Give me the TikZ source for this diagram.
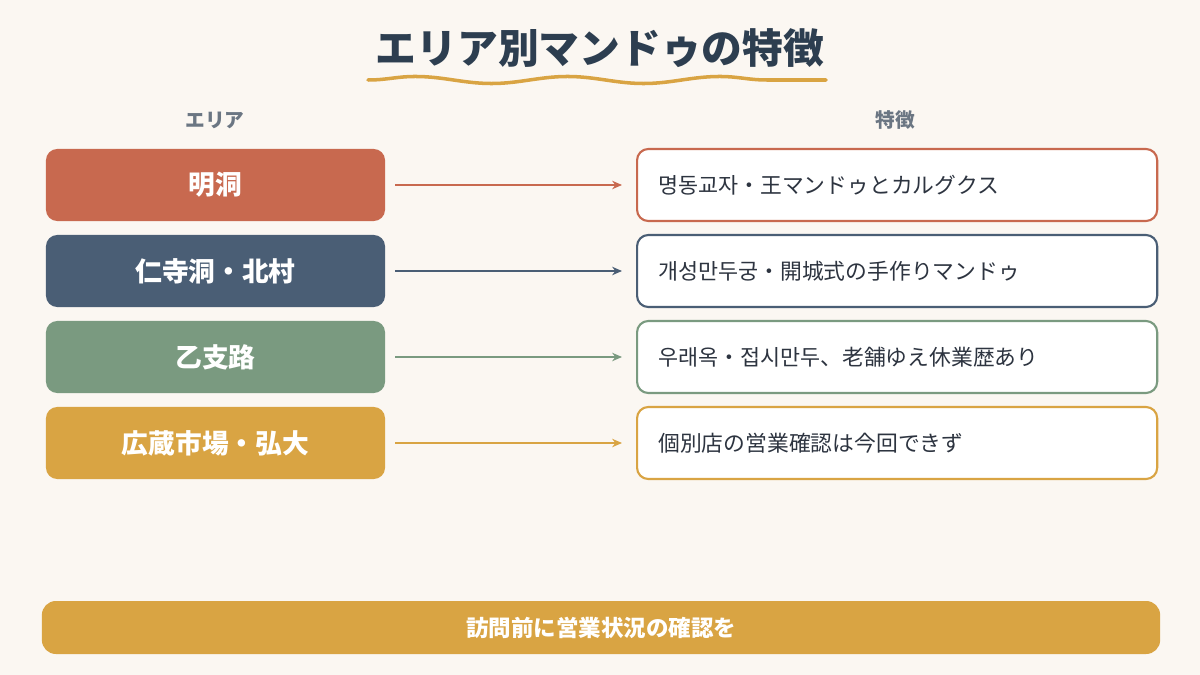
\documentclass[tikz,border=0pt]{standalone}
\usepackage{fontspec}
\setmainfont{Noto Sans CJK JP}
\usetikzlibrary{arrows.meta,decorations.pathmorphing}
\definecolor{bg}{HTML}{FBF7F2}
\definecolor{navy}{HTML}{2D3E50}
\definecolor{cA}{HTML}{C8694F}
\definecolor{cB}{HTML}{4A5E75}
\definecolor{cC}{HTML}{7A9A80}
\definecolor{cD}{HTML}{D9A443}
\definecolor{hdr}{HTML}{6B7683}
\definecolor{txt}{HTML}{2D3440}
\begin{document}
\begin{tikzpicture}[x=0.025cm,y=-0.025cm,
  area/.style={rounded corners=8pt,minimum width=8.475cm,minimum height=1.8cm,text=white,font=\fontsize{19}{21}\selectfont\bfseries,inner sep=0},
  feat/.style={draw,line width=1.5pt,fill=white,rounded corners=8pt,minimum width=13cm,minimum height=1.8cm,inner sep=0,anchor=west},
  ftext/.style={anchor=west,text=txt,font=\fontsize{15.5}{17}\selectfont,inner sep=0},
  arr/.style={-{Stealth[length=7pt,width=6pt]},line width=1.2pt}]
\fill[bg] (0,0) rectangle (1200,675);
\useasboundingbox (0,0) rectangle (1200,675);
\node[text=navy,font=\fontsize{29}{32}\selectfont\bfseries] (title) at (600,48) {エリア別マンドゥの特徴};
\coordinate (w1) at (368,80);
\coordinate (w2) at (826,80);
\draw[cD,line width=2.5pt,line cap=round,decorate,decoration={snake,amplitude=2.5pt,segment length=3.8cm}] (w1) -- (w2);
\node[text=hdr,font=\fontsize{14}{16}\selectfont\bfseries] (h1) at (215,120) {エリア};
\node[text=hdr,font=\fontsize{14}{16}\selectfont\bfseries] (h2) at (895,120) {特徴};
\foreach \i/\c/\y/\a/\f in {1/cA/185/明洞/명동교자・王マンドゥとカルグクス,
  2/cB/271/仁寺洞・北村/개성만두궁・開城式の手作りマンドゥ,
  3/cC/357/乙支路/우래옥・접시만두、老舗ゆえ休業歴あり,
  4/cD/443/広蔵市場・弘大/個別店の営業確認は今回できず}{
  \node[area,fill=\c] (a\i) at (215.5,\y) {\a};
  \node[feat,draw=\c] (f\i) at (636,\y) {};
  \node[ftext] (t\i) at (658,\y) {\f};
  \coordinate (s\i) at (395,\y);
  \coordinate (e\i) at (622,\y);
  \draw[arr,\c] (s\i) -- (e\i);
}
\node[fill=cD,rounded corners=10pt,minimum width=27.95cm,minimum height=1.325cm,text=white,font=\fontsize{16}{18}\selectfont\bfseries] (bar) at (601,627.5) {訪問前に営業状況の確認を};
\end{tikzpicture}
\end{document}
